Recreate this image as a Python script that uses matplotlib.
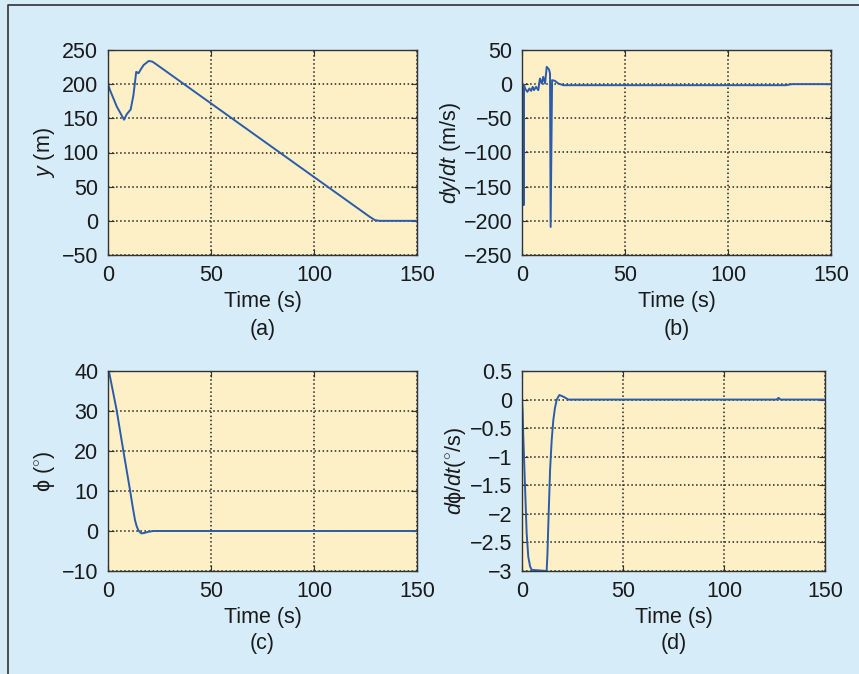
import matplotlib.pyplot as plt
from matplotlib.lines import Line2D

plt.rcParams['font.family'] = ['Liberation Sans', 'DejaVu Sans']
plt.rcParams['mathtext.fontset'] = 'custom'
plt.rcParams['mathtext.rm'] = 'Liberation Sans'
plt.rcParams['mathtext.it'] = 'Liberation Sans:italic'
plt.rcParams['axes.unicode_minus'] = True

OUTPUT_FILE = 'out.png'
FIG_BG = '#d6ecf9'
AX_BG = '#fdf0c6'
LINE_COLOR = '#2b5cab'
FONT_SIZE = 15.5

# (a) position y
t_y = [0, 1, 4.3, 7.8, 9.1, 11, 12.3, 13.7, 14.8, 16, 17.3, 19.8, 21.5, 23, 127, 129.6, 132, 150]
y_pos = [200, 191, 167, 148, 156, 163, 183, 218, 216, 222, 228, 234, 233, 230, 6, 1, 0, 0]

# (b) dy/dt
t_dy = [0, 0.6, 0.8, 1.0, 1.46, 2.6, 3.6, 4.4, 5.2, 5.8, 6.8, 7.9, 8.7, 9.6, 10.3,
        11.2, 12.0, 13.1, 13.6, 13.9, 14.6, 16, 17.6, 20, 128, 131, 150]
dy_val = [0, -2, -177, -1, -6.3, -11.2, -6.3, -9.8, -3.9, -8.8, -3.9, -8.8, 8.3, 1, 10.7,
          1, 25.4, 21.5, 15.6, -209, 5.9, 4.8, 1, -1.5, -1.5, 0, 0]

# (c) phi
t_phi = [0, 0.5, 4.2, 7.4, 10.7, 12, 13.1, 13.9, 14.7, 15.5, 16.3, 17.5, 19.6, 22, 150]
phi_val = [40, 39.8, 30.2, 20.2, 10.2, 6, 2.75, 1.2, 0.25, -0.3, -0.6, -0.5, -0.2, 0, 0]

# (d) dphi/dt
t_dphi = [0, 0.3, 0.6, 1.5, 2.3, 3.1, 4.0, 4.8, 12.2, 12.6, 13, 13.9, 14.7, 15.5, 16.3,
          17.2, 18.5, 20.5, 23, 126, 127, 128, 150]
dphi_val = [0, -0.2, -0.6, -1.52, -2.34, -2.75, -2.92, -2.98, -3, -2.7, -2.22, -1.23,
            -0.71, -0.36, -0.15, 0, 0.08, 0.05, 0, 0, 0.03, 0, 0]

x_ticks = [0, 50, 100, 150]

panels = [
    dict(pos=[108, 50, 417, 255], t=t_y, v=y_pos, ylim=(-50, 250),
         yticks=[-50, 0, 50, 100, 150, 200, 250], yticklabels=None,
         ylabel=r'$\mathit{y}$ (m)', labx=57, tag='(a)'),
    dict(pos=[522, 50, 831, 255], t=t_dy, v=dy_val, ylim=(-250, 50),
         yticks=[-250, -200, -150, -100, -50, 0, 50], yticklabels=None,
         ylabel=r'$\mathit{dy/dt}$ (m/s)', labx=463, tag='(b)'),
    dict(pos=[108, 371, 417, 571], t=t_phi, v=phi_val, ylim=(-10, 40),
         yticks=[-10, 0, 10, 20, 30, 40], yticklabels=None,
         ylabel=r'ϕ ($^{\circ}$)', labx=57, tag='(c)'),
    dict(pos=[522, 371, 825, 571], t=t_dphi, v=dphi_val, ylim=(-3, 0.5),
         yticks=[-3, -2.5, -2, -1.5, -1, -0.5, 0, 0.5],
         yticklabels=['\u22123', '\u22122.5', '\u22122', '\u22121.5', '\u22121',
                      '\u22120.5', '0', '0.5'],
         ylabel=r'$\mathit{d}$ϕ/$\mathit{dt}$($^{\circ}$/s)', labx=468, tag='(d)'),
]


def main():
    W, H = 859, 674
    fig = plt.figure(figsize=(W / 100, H / 100), dpi=100)
    fig.patch.set_facecolor(FIG_BG)

    # frame on the left and top
    fig.add_artist(Line2D([8 / W, 8 / W, 1], [0, 1 - 5 / H, 1 - 5 / H],
                          transform=fig.transFigure, color='#333333', lw=1.2))

    for p in panels:
        x0, y0, x1, y1 = p['pos']
        ax = fig.add_axes([x0 / W, 1 - y1 / H, (x1 - x0) / W, (y1 - y0) / H])
        ax.set_facecolor(AX_BG)
        ax.plot(p['t'], p['v'], color=LINE_COLOR, lw=1.4)
        ax.set_xlim(0, 150)
        ax.set_ylim(*p['ylim'])
        ax.set_xticks(x_ticks)
        ax.set_yticks(p['yticks'])
        if p['yticklabels'] is not None:
            ax.set_yticklabels(p['yticklabels'])
        ax.tick_params(direction='in', top=True, right=True, length=4,
                       labelsize=FONT_SIZE, pad=7, color='#333333', labelcolor='#1a1a1a')
        ax.grid(True, linestyle=':', color='#222222', lw=1.1)
        for s in ax.spines.values():
            s.set_color('#333333')
            s.set_linewidth(1.0)

        top_row = y1 < 300
        ax.set_xlabel('Time (s)', fontsize=FONT_SIZE, color='#1a1a1a')
        ax.xaxis.set_label_coords(0.5, -((291 if top_row else 607) - y1) / (y1 - y0))
        ax.set_ylabel(p['ylabel'], fontsize=FONT_SIZE, color='#1a1a1a')
        ax.yaxis.set_label_coords((p['labx'] - x0) / (x1 - x0), 0.5)
        tag_y = 330 if top_row else 643
        ax.text(0.5, -(tag_y - y1) / (y1 - y0), p['tag'], transform=ax.transAxes,
                ha='center', va='center', fontsize=FONT_SIZE, color='#1a1a1a')

    plt.savefig(OUTPUT_FILE, dpi=100, facecolor=FIG_BG)


if __name__ == '__main__':
    main()
